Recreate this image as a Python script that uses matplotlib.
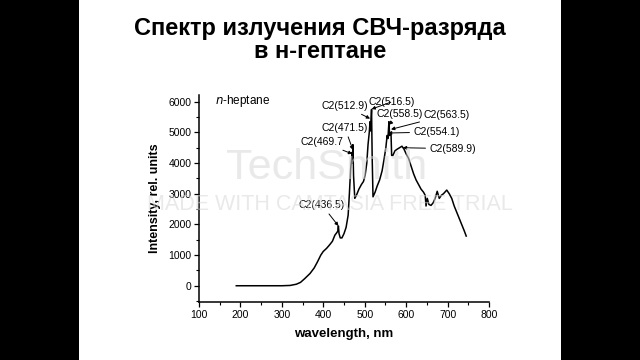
import matplotlib.pyplot as plt
from matplotlib.patches import Rectangle
from matplotlib.ticker import MultipleLocator

plt.rcParams['font.family'] = ['Liberation Sans', 'DejaVu Sans']

# spectrum
wavelength = [190, 250, 300, 320, 335, 345, 355, 368, 378, 386, 394, 400, 408,
              415, 422, 428, 432, 435, 436.5, 438, 441, 445, 450, 455, 460, 463,
              466, 468.5, 469.7, 470.5, 471.5, 473, 476, 480, 486, 492, 497,
              501, 505, 508, 511, 512.9, 514, 516.5, 518, 520, 525, 530, 536,
              542, 547, 551, 554.1, 556, 558.5, 560, 563.5, 565, 568, 573, 578,
              584, 589.9, 595, 600, 606, 612, 618, 624, 630, 636, 642, 646, 648,
              651, 655, 660, 665, 670, 675, 680, 685, 690, 698, 704, 710, 716,
              722, 728, 734, 740, 745]
intensity = [0, 0, 0, 10, 50, 110, 230, 400, 580, 780, 1000, 1120, 1220,
             1330, 1450, 1650, 1720, 1780, 1950, 1700, 1560, 1560, 1700, 1900, 2300, 3000,
             3800, 4150, 4350, 4000, 4600, 3600, 2850, 2950, 3150, 3300, 3400,
             3600, 4000, 4600, 5000, 5350, 5050, 5750, 4200, 2900, 3050, 3250, 3450,
             3750, 4150, 4500, 4900, 4800, 5350, 4900, 4950, 4250, 4250, 4400, 4450,
             4500, 4550, 4450, 4300, 4150, 3900, 3650, 3450, 3300, 3150, 3050, 2950, 2600,
             2850, 2650, 2620, 2700, 2850, 3080, 2850, 2950, 3000, 3120, 3000, 2850, 2600,
             2400, 2200, 2000, 1800, 1620]

# peak labels: text, peak (x, y), text position (x, y)
peak_labels = ['C2(469.7', 'C2(471.5)', 'C2(512.9)', 'C2(516.5)', 'C2(558.5)',
               'C2(563.5)', 'C2(554.1)', 'C2(589.9)', 'C2(436.5)']
peak_xy = [(469.7, 4300), (471.5, 4430), (512.9, 5450), (516.5, 5760), (558.5, 5250),
           (563.5, 5100), (556, 4980), (592, 4500), (436.5, 1950)]
label_xy = [(397, 4690), (452, 5150), (452, 5865), (566, 6000), (585, 5605),
            (698, 5570), (674, 5015), (713, 4470), (397, 2630)]

fig = plt.figure(figsize=(6.4, 3.6), dpi=100, facecolor='black')
fig.add_artist(Rectangle((79 / 640, 0), 482 / 640, 1, transform=fig.transFigure,
                         facecolor='white', edgecolor='none', zorder=-1))

fig.text(0.5, 1 - 28 / 360, 'Спектр излучения СВЧ-разряда', ha='center', va='center',
         fontsize=17, fontweight='bold')
fig.text(0.5, 1 - 51 / 360, 'в н-гептане', ha='center', va='center',
         fontsize=17, fontweight='bold')

ax = fig.add_axes([199 / 640, 1 - 302 / 360, 290 / 640, 207 / 360])
ax.patch.set_alpha(0)
ax.plot(wavelength, intensity, color='black', lw=1.1)

for txt, xy, xyt in zip(peak_labels, peak_xy, label_xy):
    ax.annotate(txt, xy=xy, xytext=xyt, ha='center', va='center', fontsize=7.5,
                arrowprops=dict(arrowstyle='-|>', color='black', lw=0.7,
                                mutation_scale=5, shrinkA=1, shrinkB=0))

ax.text(139, 6030, '$\\it{n}$-heptane', ha='left', va='center', fontsize=8.5)

ax.set_xlim(100, 800)
ax.set_ylim(-530, 6220)
ax.xaxis.set_major_locator(MultipleLocator(100))
ax.xaxis.set_minor_locator(MultipleLocator(50))
ax.yaxis.set_major_locator(MultipleLocator(1000))
ax.yaxis.set_minor_locator(MultipleLocator(500))
ax.tick_params(which='major', direction='out', length=3.5, width=0.9, labelsize=7.5, pad=2)
ax.tick_params(which='minor', direction='out', length=2, width=0.8)
for s in ['top', 'right']:
    ax.spines[s].set_visible(False)
for s in ['left', 'bottom']:
    ax.spines[s].set_linewidth(1.1)

ax.set_xlabel('wavelength, nm', fontsize=9.5, fontweight='bold', labelpad=6)
ax.set_ylabel('Intensity, rel. units', fontsize=9, fontweight='bold', labelpad=5)

# camtasia watermark
fig.text(0.51, 1 - 168 / 360, 'TechSmith', ha='center', va='center', fontsize=31,
         color='#d8d8d8', alpha=0.55, zorder=5)
fig.text(0.515, 1 - 205 / 360, 'MADE WITH CAMTASIA FREE TRIAL', ha='center', va='center',
         fontsize=15.5, color='#d8d8d8', alpha=0.55, zorder=5)

fig.savefig('out.png', dpi=100, facecolor=fig.get_facecolor())
